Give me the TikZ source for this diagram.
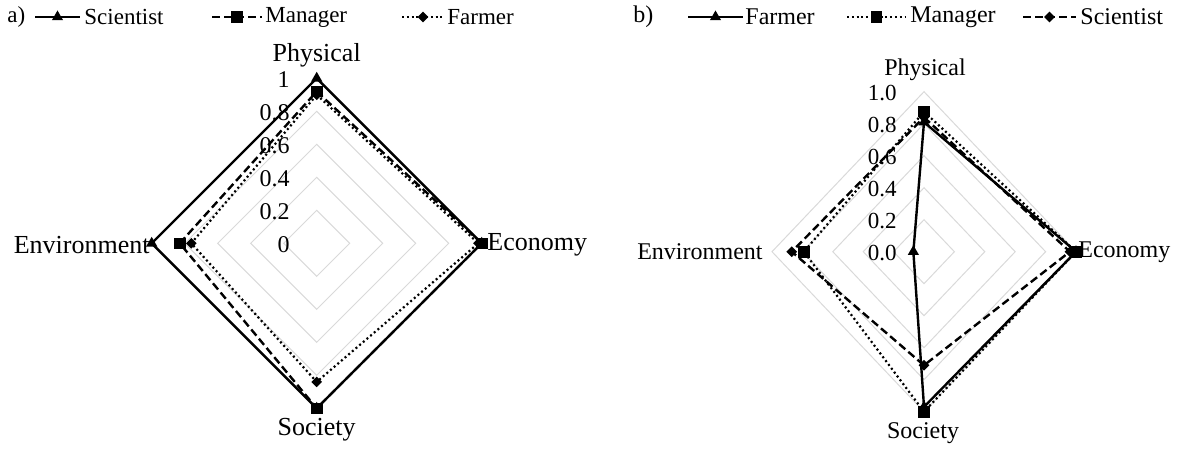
\documentclass[tikz,border=0pt]{standalone}
\usepackage{fontspec}
\setmainfont{Liberation Serif}
\usetikzlibrary{shapes.geometric, positioning}

% name, radius x, radius y, physical, economy, society, environment
\newcommand{\seriespts}[7]{%
  \coordinate (#1p) at (0,-#3*#4);
  \coordinate (#1e) at (#2*#5,0);
  \coordinate (#1s) at (0,#3*#6);
  \coordinate (#1w) at (-#2*#7,0);}

\begin{document}
\begin{tikzpicture}[x=0.5pt, y=-0.5pt,
    gridline/.style={draw=gray!30, line width=0.5pt},
    solidline/.style={line width=1.2pt},
    dashline/.style={line width=1.2pt, dash pattern=on 4pt off 2pt},
    dotline/.style={line width=1.1pt, dash pattern=on 1pt off 1.4pt},
    trimark/.style={regular polygon, regular polygon sides=3, fill=black, inner sep=0pt, minimum size=6.5pt},
    sqmark/.style={rectangle, fill=black, inner sep=0pt, minimum size=5.8pt},
    dmmark/.style={diamond, fill=black, inner sep=0pt, minimum size=5.5pt},
    ticklabel/.style={anchor=east, inner sep=0pt},
    axislabel/.style={inner sep=0pt},
    legendtext/.style={anchor=west, inner sep=0pt}]

\useasboundingbox (0,0) rectangle (1183,449);

% ---------- a) ----------
\begin{scope}[shift={(316.7,243.3)}]
  \foreach \r in {0.2,0.4,0.6,0.8,1.0}
    \draw[gridline] (0,-165*\r) -- (165*\r,0) -- (0,165*\r) -- (-165*\r,0) -- cycle;
  \foreach \v [count=\i from 0] in {0,0.2,0.4,0.6,0.8,1}
    \node[ticklabel, font=\fontsize{12}{14}\selectfont] (ta\i) at (-26.7,-33*\i+1) {\v};

  \seriespts{aS}{165}{165}{1.00}{1.00}{1.00}{1.00}
  \seriespts{aM}{165}{165}{0.92}{1.00}{1.00}{0.83}
  \seriespts{aF}{165}{165}{0.90}{0.98}{0.84}{0.76}

  \draw[solidline] (aSp) -- (aSe) -- (aSs) -- (aSw) -- cycle;
  \foreach \k in {p,e,s,w} \node[trimark] (aSm\k) at (aS\k) {};
  \draw[dashline] (aMp) -- (aMe) -- (aMs) -- (aMw) -- cycle;
  \foreach \k in {p,e,s,w} \node[sqmark] (aMm\k) at (aM\k) {};
  \draw[dotline] (aFp) -- (aFe) -- (aFs) -- (aFw) -- cycle;
  \foreach \k in {p,e,s,w} \node[dmmark] (aFm\k) at (aF\k) {};
\end{scope}

\begin{scope}[font=\fontsize{13}{15}\selectfont]
  \node[axislabel] (aphys) at (316.7,55) {Physical};
  \node[axislabel, anchor=east] (aenv) at (150,245) {Environment};
  \node[axislabel, anchor=west] (aeco) at (487,245) {Economy};
  \node[axislabel] (asoc) at (316.7,430) {Society};
\end{scope}

% legend a)
\begin{scope}[font=\fontsize{11.5}{13}\selectfont]
  \node[legendtext] (alab) at (7,17) {a)};
  \coordinate (la1) at (35,17);  \coordinate (la2) at (80,17);
  \coordinate (la3) at (212,17); \coordinate (la4) at (262,17);
  \coordinate (la5) at (402,17); \coordinate (la6) at (444,17);
  \draw[solidline] (la1) -- (la2);
  \draw[dashline] (la3) -- (la4);
  \draw[dotline] (la5) -- (la6);
  \node[trimark] (lam1) at (57.5,17) {};
  \node[sqmark] (lam2) at (237,17) {};
  \node[dmmark] (lam3) at (423,17) {};
  \node[legendtext] (lat1) at (84,17) {Scientist};
  \node[legendtext] (lat2) at (265,17) {Manager};
  \node[legendtext] (lat3) at (447,17) {Farmer};
\end{scope}

% ---------- b) ----------
\begin{scope}[shift={(924,251.7)}]
  \foreach \r in {0.2,0.4,0.6,0.8,1.0}
    \draw[gridline] (0,-160*\r) -- (152*\r,0) -- (0,160*\r) -- (-152*\r,0) -- cycle;
  \foreach \v [count=\i from 0] in {0.0,0.2,0.4,0.6,0.8,1.0}
    \node[ticklabel, font=\fontsize{11.5}{13}\selectfont] (tb\i) at (-27,-32*\i+1) {\v};

  \seriespts{bF}{152}{160}{0.81}{1.00}{0.97}{0.07}
  \seriespts{bM}{152}{160}{0.875}{1.00}{1.00}{0.79}
  \seriespts{bS}{152}{160}{0.84}{0.96}{0.71}{0.87}

  \draw[solidline] (bFp) -- (bFe) -- (bFs) -- (bFw) -- cycle;
  \foreach \k in {p,e,s,w} \node[trimark] (bFm\k) at (bF\k) {};
  \draw[dotline] (bMp) -- (bMe) -- (bMs) -- (bMw) -- cycle;
  \foreach \k in {p,e,s,w} \node[sqmark] (bMm\k) at (bM\k) {};
  \draw[dashline] (bSp) -- (bSe) -- (bSs) -- (bSw) -- cycle;
  \foreach \k in {p,e,s,w} \node[dmmark] (bSm\k) at (bS\k) {};
\end{scope}

\begin{scope}[font=\fontsize{12}{14}\selectfont]
  \node[axislabel] (bphys) at (925,70) {Physical};
  \node[axislabel, anchor=east] (benv) at (763,252) {Environment};
  \node[axislabel, anchor=west] (beco) at (1078,252) {Economy};
  \node[axislabel] (bsoc) at (923,433) {Society};
\end{scope}

% legend b)
\begin{scope}[font=\fontsize{12}{14}\selectfont]
  \node[legendtext] (blab) at (633,17) {b)};
  \coordinate (lb1) at (688,17);  \coordinate (lb2) at (743,17);
  \coordinate (lb3) at (847,17);  \coordinate (lb4) at (906,17);
  \coordinate (lb5) at (1023,17); \coordinate (lb6) at (1076,17);
  \draw[solidline] (lb1) -- (lb2);
  \draw[dotline] (lb3) -- (lb4);
  \draw[dashline] (lb5) -- (lb6);
  \node[trimark] (lbm1) at (715.5,17) {};
  \node[sqmark] (lbm2) at (876.5,17) {};
  \node[dmmark] (lbm3) at (1049.5,17) {};
  \node[legendtext] (lbt1) at (745,17) {Farmer};
  \node[legendtext] (lbt2) at (910,17) {Manager};
  \node[legendtext] (lbt3) at (1080,17) {Scientist};
\end{scope}
\end{tikzpicture}
\end{document}
